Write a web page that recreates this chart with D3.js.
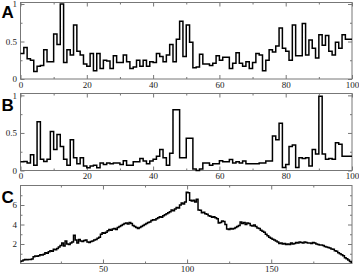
<!DOCTYPE html>
<html><head><meta charset="utf-8">
<script src="https://cdn.jsdelivr.net/npm/d3@7"></script>
<style>body{margin:0;background:#fff}svg{display:block}</style>
</head><body>
<script>
const panelLabels = ["A", "B", "C"];

const aValues = [0.34,0.42,0.27,0.25,0.10,0.17,0.18,0.39,0.23,0.23,
 0.60,0.46,1.00,0.22,0.39,0.32,0.72,0.37,0.32,0.20,
 0.17,0.34,0.11,0.34,0.14,0.25,0.24,0.14,0.31,0.22,
 0.22,0.32,0.23,0.14,0.16,0.25,0.17,0.25,0.17,0.23,
 0.22,0.34,0.30,0.23,0.32,0.46,0.23,0.53,0.77,0.30,
 0.72,0.49,0.15,0.16,0.33,0.20,0.20,0.18,0.21,0.31,
 0.25,0.29,0.29,0.14,0.21,0.35,0.21,0.17,0.23,0.14,
 0.22,0.34,0.32,0.11,0.25,0.39,0.36,0.44,0.68,0.41,
 0.37,0.25,0.72,0.31,0.31,0.74,0.32,0.52,0.41,0.28,
 0.59,0.45,0.58,0.37,0.32,0.49,0.41,0.59,0.53,0.53];

const bValues = [0.115,0.12,0.10,0.21,0.07,0.65,0.15,0.12,0.15,0.52,
 0.28,0.48,0.32,0.15,0.07,0.41,0.17,0.09,0.17,0.06,
 0.035,0.06,0.07,0.035,0.10,0.08,0.10,0.09,0.10,0.10,
 0.08,0.13,0.07,0.07,0.115,0.115,0.16,0.125,0.09,0.125,
 0.15,0.19,0.28,0.17,0.07,0.23,0.81,0.81,0.17,0.17,
 0.43,0.43,0.02,0.0,0.02,0.10,0.10,0.07,0.09,0.09,
 0.13,0.115,0.115,0.145,0.10,0.115,0.10,0.125,0.09,0.09,
 0.09,0.09,0.10,0.10,0.125,0.125,0.46,0.41,0.63,0.04,
 0.08,0.32,0.34,0.04,0.17,0.16,0.17,0.06,0.28,0.22,
 0.99,0.22,0.15,0.16,0.15,0.37,0.35,0.19,0.19,0.19];

const cValues = [0.2,0.25,0.35,0.4,0.38,0.42,0.4,0.45,0.7,0.78,
 0.75,0.8,0.9,0.88,0.95,1.1,1.05,1.2,1.3,1.25,
 1.45,1.4,1.55,1.7,1.85,2.1,1.8,2.3,2.0,1.95,
 2.1,2.2,2.9,2.4,2.1,2.45,2.3,2.25,2.35,2.4,
 2.2,2.15,2.25,2.3,2.4,2.45,2.6,2.7,3.0,3.15,
 3.1,3.2,3.35,3.5,3.4,3.55,3.6,3.5,3.7,3.8,
 3.9,4.0,4.1,4.15,4.05,4.2,4.1,3.9,3.8,3.7,
 3.6,3.7,3.8,3.9,4.0,4.1,4.2,4.25,4.4,4.5,
 4.45,4.6,4.7,4.8,4.75,4.9,5.0,5.1,5.2,5.3,
 5.5,5.4,5.6,5.75,5.7,6.0,6.2,6.1,6.3,7.3,
 7.25,6.5,6.4,6.5,6.3,6.6,5.5,5.45,5.2,5.25,
 5.1,5.05,4.9,4.85,4.75,4.8,4.7,4.6,4.15,4.2,
 4.35,4.3,4.0,3.55,3.5,3.6,3.55,3.6,3.7,3.8,
 3.9,4.25,4.1,4.2,4.0,4.15,4.1,3.9,3.85,3.95,
 3.8,3.65,3.6,3.4,3.3,3.2,3.0,2.85,2.7,2.6,
 2.5,2.4,2.3,2.2,2.05,2.1,2.0,2.05,1.95,2.0,
 1.95,2.1,2.0,2.05,2.15,2.1,2.2,2.15,2.1,2.2,
 2.15,2.1,2.1,2.05,2.15,2.1,2.0,1.95,1.9,1.9,
 1.85,1.75,1.7,1.65,1.6,1.5,1.45,1.3,1.25,1.1,
 1.0,0.9,0.8,0.6,0.5,0.35,0.2,0.12];

const abTicksX = [0, 20, 40, 60, 80, 100];
const abMinorX = [10, 30, 50, 70, 90];
const abTicksY = [0, 0.5, 1];
const abMinorY = [0.25, 0.75];
const cTicksX = [50, 100, 150];
const cMinorX = [25, 75, 125, 175];
const cTicksY = [2, 4, 6];
const cMinorY = [1, 3, 5, 7];

const W = 359, H = 273;
const svg = d3.select("body").append("svg").attr("width", W).attr("height", H);

const left = 20.5, right = 352;
const panels = [
  {label: panelLabels[0], top: 2.5, bottom: 79, xd: [0, 100], yd: [0, 1.02],
   pts: aValues.map((v, i) => [i, v]).concat([[100, aValues[aValues.length - 1]]]),
   curve: d3.curveStepAfter, tx: abTicksX, mx: abMinorX, ty: abTicksY, my: abMinorY, labY: 18},
  {label: panelLabels[1], top: 93.5, bottom: 170.5, xd: [0, 100], yd: [0, 1.025],
   pts: bValues.map((v, i) => [i, v]).concat([[100, bValues[bValues.length - 1]]]),
   curve: d3.curveStepAfter, tx: abTicksX, mx: abMinorX, ty: abTicksY, my: abMinorY, labY: 111},
  {label: panelLabels[2], top: 185.5, bottom: 263.5, xd: [1, 198], yd: [0, 8],
   pts: cValues.map((v, i) => [i + 1, v]),
   curve: d3.curveStep, tx: cTicksX, mx: cMinorX, ty: cTicksY, my: cMinorY, labY: 203}
];

const fmt = d3.format("~g");
const tickFont = "'Liberation Serif', 'DejaVu Serif', serif";

panels.forEach(p => {
  const x = d3.scaleLinear().domain(p.xd).range([left, right]);
  const y = d3.scaleLinear().domain(p.yd).range([p.bottom, p.top]);
  const g = svg.append("g");

  // frame
  g.append("rect").attr("x", left).attr("y", p.top)
    .attr("width", right - left).attr("height", p.bottom - p.top)
    .attr("fill", "none").attr("stroke", "#777").attr("stroke-width", 1);

  const styleAxis = (sel) => {
    sel.select(".domain").remove();
    sel.selectAll("line").attr("stroke", "#777");
    sel.selectAll("text").attr("font-family", tickFont).attr("font-size", 9).attr("fill", "#222");
  };

  // bottom major
  g.append("g").attr("transform", `translate(0,${p.bottom})`)
    .call(d3.axisBottom(x).tickValues(p.tx).tickFormat(fmt).tickSizeInner(-4).tickSizeOuter(0).tickPadding(2.5))
    .call(styleAxis);
  g.append("g").attr("transform", `translate(0,${p.bottom})`)
    .call(d3.axisBottom(x).tickValues(p.mx).tickFormat("").tickSizeInner(-2).tickSizeOuter(0))
    .call(styleAxis);
  // top
  g.append("g").attr("transform", `translate(0,${p.top})`)
    .call(d3.axisTop(x).tickValues(p.tx).tickFormat("").tickSizeInner(-4).tickSizeOuter(0))
    .call(styleAxis);
  g.append("g").attr("transform", `translate(0,${p.top})`)
    .call(d3.axisTop(x).tickValues(p.mx).tickFormat("").tickSizeInner(-2).tickSizeOuter(0))
    .call(styleAxis);
  // left
  g.append("g").attr("transform", `translate(${left},0)`)
    .call(d3.axisLeft(y).tickValues(p.ty).tickFormat(fmt).tickSizeInner(-4).tickSizeOuter(0).tickPadding(3.5))
    .call(styleAxis);
  g.append("g").attr("transform", `translate(${left},0)`)
    .call(d3.axisLeft(y).tickValues(p.my).tickFormat("").tickSizeInner(-2).tickSizeOuter(0))
    .call(styleAxis);
  // right
  g.append("g").attr("transform", `translate(${right},0)`)
    .call(d3.axisRight(y).tickValues(p.ty).tickFormat("").tickSizeInner(-4).tickSizeOuter(0))
    .call(styleAxis);
  g.append("g").attr("transform", `translate(${right},0)`)
    .call(d3.axisRight(y).tickValues(p.my).tickFormat("").tickSizeInner(-2).tickSizeOuter(0))
    .call(styleAxis);

  // data line
  const line = d3.line().x(d => x(d[0])).y(d => y(d[1])).curve(p.curve);
  g.append("path").datum(p.pts).attr("d", line)
    .attr("fill", "none").attr("stroke", "#000").attr("stroke-width", 1.5)
    .attr("stroke-linejoin", "miter");

  // panel label
  svg.append("text").attr("x", 1.5).attr("y", p.labY).text(p.label)
    .attr("font-family", "'Liberation Sans', Arial, sans-serif")
    .attr("font-weight", "bold").attr("font-size", 17).attr("fill", "#000");
});
</script>
</body></html>
